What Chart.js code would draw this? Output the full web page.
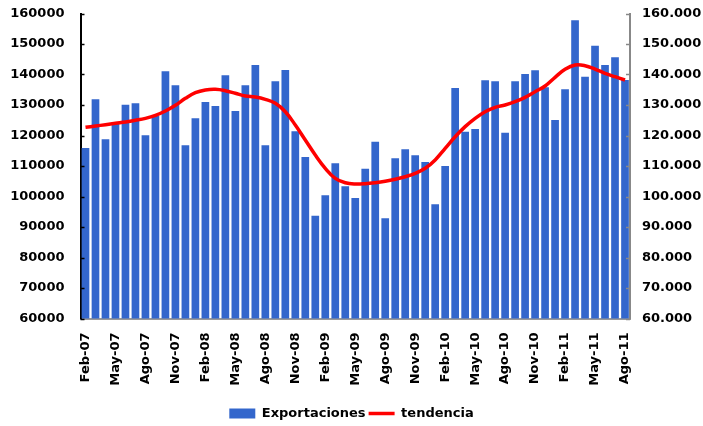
<!DOCTYPE html>
<html>
<head>
<meta charset="utf-8">
<script src="https://cdn.jsdelivr.net/npm/chart.js@4.4.0/dist/chart.umd.min.js"></script>
<style>
  html, body { margin: 0; padding: 0; background: #ffffff; }
  #wrap { width: 703px; height: 426px; position: relative; }
</style>
</head>
<body>
<div id="wrap"><canvas id="c" width="703" height="426"></canvas></div>
<script>
const categories = [
  'Feb-07','Mar-07','Abr-07','May-07','Jun-07','Jul-07','Ago-07','Sep-07','Oct-07','Nov-07','Dic-07',
  'Ene-08','Feb-08','Mar-08','Abr-08','May-08','Jun-08','Jul-08','Ago-08','Sep-08','Oct-08','Nov-08','Dic-08',
  'Ene-09','Feb-09','Mar-09','Abr-09','May-09','Jun-09','Jul-09','Ago-09','Sep-09','Oct-09','Nov-09','Dic-09',
  'Ene-10','Feb-10','Mar-10','Abr-10','May-10','Jun-10','Jul-10','Ago-10','Sep-10','Oct-10','Nov-10','Dic-10',
  'Ene-11','Feb-11','Mar-11','Abr-11','May-11','Jun-11','Jul-11','Ago-11'
];

const exportaciones = [
  115900,131870,118750,123770,130100,130550,120060,126390,141050,136460,
  116780,125630,130980,129670,139730,128030,136460,143110,116780,137770,
  141470,121370,112950,93700,100390,110880,103340,99500,109110,117960,
  92850,112520,115470,113500,111310,97440,110000,135570,121250,122130,
  138100,137770,120920,137770,140160,141380,135800,125080,135140,157770,
  139280,149440,143110,145640,138190
];

const tendencia = [
  122670,123110,123540,124000,124430,124980,125630,126610,128030,129900,
  132190,134030,134920,135140,134690,133840,132950,132620,131870,130550,
  127800,123440,118520,113600,109240,105960,104520,104100,104200,104520,
  104980,105630,106490,107600,109240,112000,115800,119600,122900,125630,
  127800,129240,130000,131080,132520,134360,136230,139080,141700,143110,
  142890,141800,140390,139280,138190
];

const yMin = 60000, yMax = 160000, yStep = 10000;
const seriesNames = ['Exportaciones', 'tendencia'];

const FONT = { family: '"DejaVu Sans", sans-serif', size: 13, weight: 'bold' };

const fmtDot = v => String(v).replace(/\B(?=(\d{3})+(?!\d))/g, '.');

const tickMarks = {
  id: 'tickMarks',
  afterDatasetsDraw(chart) {
    const ctx = chart.ctx;
    const yl = chart.scales.y, yr = chart.scales.y2;
    const area = chart.chartArea;
    ctx.save();
    for (let v = yMin; v <= yMax; v += yStep) {
      const py = Math.round(yl.getPixelForValue(v)) + 0.5;
      ctx.strokeStyle = '#000';
      ctx.lineWidth = 1.5;
      ctx.beginPath(); ctx.moveTo(area.left, py); ctx.lineTo(area.left + 4, py); ctx.stroke();
      const pr = Math.round(yr.getPixelForValue(v)) + 0.5;
      ctx.strokeStyle = '#888';
      ctx.beginPath(); ctx.moveTo(area.right - 4, pr); ctx.lineTo(area.right, pr); ctx.stroke();
    }
    ctx.restore();
  }
};

new Chart(document.getElementById('c'), {
  data: {
    labels: categories,
    datasets: [
      {
        type: 'line',
        label: seriesNames[1],
        data: tendencia,
        borderColor: '#FF0000',
        backgroundColor: '#FF0000',
        borderWidth: 3.5,
        pointRadius: 0,
        tension: 0.4,
        yAxisID: 'y',
        pointStyle: 'line',
        order: 0
      },
      {
        type: 'bar',
        label: seriesNames[0],
        data: exportaciones,
        backgroundColor: '#3366CC',
        borderWidth: 0,
        categoryPercentage: 1.0,
        barPercentage: 0.77,
        yAxisID: 'y',
        pointStyle: 'rect',
        order: 1
      }
    ]
  },
  options: {
    responsive: false,
    animation: false,
    layout: { padding: { top: 13.5, left: 0, right: 0, bottom: -4 } },
    plugins: {
      legend: {
        position: 'bottom',
        reverse: true,
        labels: {
          usePointStyle: true,
          pointStyleWidth: 26,
          boxWidth: 26,
          boxHeight: 10,
          padding: 3,
          color: '#000',
          font: FONT
        }
      },
      tooltip: { enabled: false }
    },
    scales: {
      x: {
        grid: { display: false, drawTicks: false },
        border: { display: true, color: '#999', width: 2 },
        ticks: {
          autoSkip: false,
          maxRotation: 90,
          minRotation: 90,
          padding: 14,
          color: '#000',
          font: FONT,
          callback: function(val, idx) { return idx % 3 === 0 ? this.getLabelForValue(val) : ''; }
        },
        afterFit: s => { s.height = 85.5; }
      },
      y: {
        position: 'left',
        min: yMin, max: yMax,
        grid: { display: true, drawOnChartArea: false, drawTicks: true, tickLength: 16, tickColor: 'rgba(0,0,0,0)' },
        border: { display: true, color: '#000', width: 2 },
        ticks: { stepSize: yStep, padding: 0, color: '#000', font: FONT, callback: v => String(v) },
        afterFit: s => { s.width = 80.5; }
      },
      y2: {
        position: 'right',
        min: yMin, max: yMax,
        grid: { display: true, drawOnChartArea: false, drawTicks: true, tickLength: 12, tickColor: 'rgba(0,0,0,0)' },
        border: { display: true, color: '#888', width: 2 },
        ticks: { stepSize: yStep, padding: 0, color: '#000', font: FONT, callback: v => fmtDot(v) },
        afterFit: s => { s.width = 73; }
      }
    }
  },
  plugins: [tickMarks]
});
</script>
</body>
</html>
